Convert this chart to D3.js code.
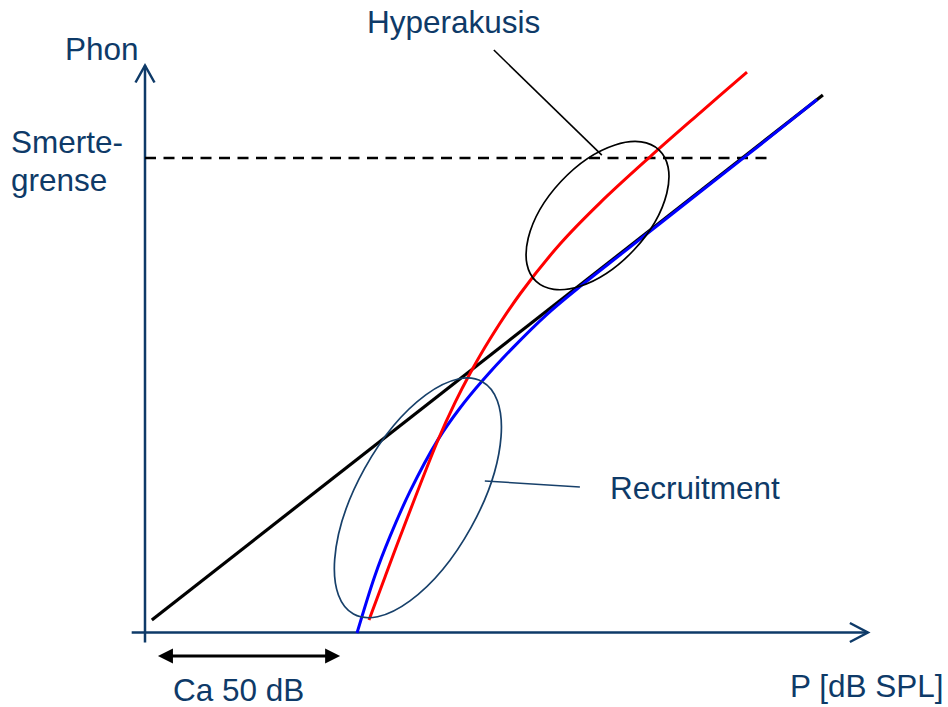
<!DOCTYPE html>
<html>
<head>
<meta charset="utf-8">
<script src="https://cdn.jsdelivr.net/npm/d3@7"></script>
<style>
  body { margin: 0; background: #fff; }
  svg { display: block; }
  text { font-family: "Liberation Sans", Arial, sans-serif; font-size: 31.5px; fill: #0e3a68; }
</style>
</head>
<body>
<svg></svg>
<script>
const width = 948
const height = 707

// Data (x = dB SPL, y = phon)
const normalLine = [[1.9, 3.5], [188.3, 149.3]]

const recruitment = [
    [58.89, -0.14], [63.89, 15.86], [68.06, 26.69], [73.61, 39.19], [81.39, 53.58],
    [87.5, 62.36], [93.89, 70.14], [102.22, 79.14], [111.67, 88.39], [120.83, 96.08],
    [132.78, 105.53], [154.17, 122.36], [170.83, 135.42], [186.67, 148.06]
]

const hyperacusis = [
    [62.22, 3.47], [66.67, 15.42], [70.83, 26.53], [81.39, 53.47], [86.11, 63.86],
    [90.28, 71.97], [95.83, 81.53], [104.17, 94.03], [115.28, 107.92], [126.39, 119.36],
    [140.28, 132.14], [154.17, 144.36], [167.22, 155.69]
]

const painThreshold = 131.8
const painThresholdEnd = 173.1

// ellipses: center x, center y, semi-major, semi-minor, angle (deg)
const ellipses = [
    { name: "Recruitment", cx: 75.8, cy: 37.4, a: 36.9, b: 16.9, angle: 61, color: "#17406a" },
    { name: "Hyperakusis", cx: 125.7, cy: 115.8, a: 25.0, b: 13.9, angle: 47, color: "#000" }
]

const leaders = [
    { from: [96.9, 161.8], to: [126.9, 132.6], color: "#000" },
    { from: [94.4, 42.1], to: [120.8, 40.4], color: "#17406a" }
]

const span50 = [3.6, 54.2]
const spanY = -6.5

const xAxisExtent = [-3.7, 200.8]
const yAxisExtent = [-2.8, 157.5]

const svg = d3.select("svg")
    .attr("width", width)
    .attr("height", height)

// Scales (same unit size on both axes)
const xScale = d3.scaleLinear().domain([0, 200]).range([145, 865])
const yScale = d3.scaleLinear().domain([0, 160]).range([632.5, 56.5])
const unit = xScale(1) - xScale(0)

const axisColor = "#0e3a68"

// Axes
svg.append("line")
    .attr("x1", xScale(xAxisExtent[0])).attr("x2", xScale(xAxisExtent[1]))
    .attr("y1", yScale(0)).attr("y2", yScale(0))
    .attr("stroke", axisColor).attr("stroke-width", 2.5)

svg.append("line")
    .attr("x1", xScale(0)).attr("x2", xScale(0))
    .attr("y1", yScale(yAxisExtent[0])).attr("y2", yScale(yAxisExtent[1]))
    .attr("stroke", axisColor).attr("stroke-width", 2.5)

// open arrow heads
const xt = [xScale(xAxisExtent[1]), yScale(0)]
svg.append("path")
    .attr("d", `M${xt[0] - 18},${xt[1] - 9.5} L${xt[0]},${xt[1]} L${xt[0] - 18},${xt[1] + 9.5}`)
    .attr("fill", "none").attr("stroke", axisColor).attr("stroke-width", 2.5)

const yt = [xScale(0), yScale(yAxisExtent[1])]
svg.append("path")
    .attr("d", `M${yt[0] - 9.5},${yt[1] + 17} L${yt[0]},${yt[1]} L${yt[0] + 9.5},${yt[1] + 17}`)
    .attr("fill", "none").attr("stroke", axisColor).attr("stroke-width", 2.5)

// Pain threshold
svg.append("line")
    .attr("x1", xScale(0)).attr("x2", xScale(painThresholdEnd))
    .attr("y1", yScale(painThreshold)).attr("y2", yScale(painThreshold))
    .attr("stroke", "#000").attr("stroke-width", 2.5)
    .attr("stroke-dasharray", "11 7.5")

// Curves
const line = d3.line()
    .x(d => xScale(d[0]))
    .y(d => yScale(d[1]))
    .curve(d3.curveCatmullRom)

svg.append("path").datum(normalLine)
    .attr("d", line).attr("fill", "none")
    .attr("stroke", "#000").attr("stroke-width", 3.2)

svg.append("path").datum(recruitment)
    .attr("d", line).attr("fill", "none")
    .attr("stroke", "#0000ff").attr("stroke-width", 3)

svg.append("path").datum(hyperacusis)
    .attr("d", line).attr("fill", "none")
    .attr("stroke", "#ff0000").attr("stroke-width", 3)

// Ellipses
svg.selectAll("ellipse").data(ellipses)
    .enter()
    .append("ellipse")
    .attr("transform", d => `translate(${xScale(d.cx)},${yScale(d.cy)}) rotate(${-d.angle})`)
    .attr("rx", d => d.a * unit)
    .attr("ry", d => d.b * unit)
    .attr("fill", "none")
    .attr("stroke", d => d.color)
    .attr("stroke-width", 1.7)

// Leader lines
svg.selectAll(".leader").data(leaders)
    .enter()
    .append("line")
    .attr("class", "leader")
    .attr("x1", d => xScale(d.from[0])).attr("y1", d => yScale(d.from[1]))
    .attr("x2", d => xScale(d.to[0])).attr("y2", d => yScale(d.to[1]))
    .attr("stroke", d => d.color).attr("stroke-width", 1.6)

// 50 dB double arrow
const ax0 = xScale(span50[0]), ax1 = xScale(span50[1]), ay = yScale(spanY)
svg.append("line")
    .attr("x1", ax0 + 10).attr("x2", ax1 - 10)
    .attr("y1", ay).attr("y2", ay)
    .attr("stroke", "#000").attr("stroke-width", 3)
svg.append("path")
    .attr("d", `M${ax0},${ay} L${ax0 + 15},${ay - 7.5} L${ax0 + 15},${ay + 7.5} Z`)
    .attr("fill", "#000")
svg.append("path")
    .attr("d", `M${ax1},${ay} L${ax1 - 15},${ay - 7.5} L${ax1 - 15},${ay + 7.5} Z`)
    .attr("fill", "#000")

// Labels
const labels = [
    { text: "Phon", x: 65, y: 60 },
    { text: "Smerte-", x: 11, y: 153 },
    { text: "grense", x: 11, y: 191 },
    { text: "Hyperakusis", x: 367, y: 33 },
    { text: "Recruitment", x: 610, y: 499 },
    { text: "Ca 50 dB", x: 173, y: 701 },
    { text: "P [dB SPL]", x: 790, y: 697 }
]
svg.selectAll(".label").data(labels)
    .enter()
    .append("text")
    .attr("class", "label")
    .attr("x", d => d.x)
    .attr("y", d => d.y)
    .text(d => d.text)
</script>
</body>
</html>
